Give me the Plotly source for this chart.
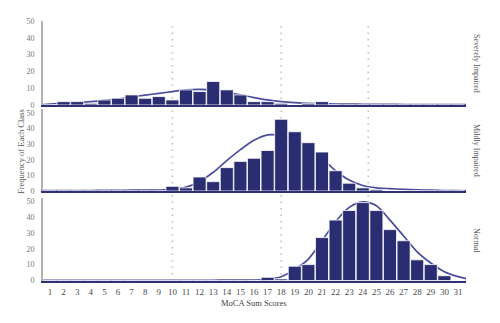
import plotly.graph_objects as go

# ---------------- data ----------------
scores = list(range(1, 32))
tick_labels = [str(s) for s in scores]

severe = [0, 2, 2, 1, 3, 4, 6, 4, 5, 3, 9, 8, 14, 9, 6, 2, 2, 1, 0, 1, 2,
          0, 0, 0, 0, 0, 0, 0, 0, 0, 0]
mild = [0, 0, 0, 0, 0, 0, 0, 0, 0, 3, 2, 9, 6, 15, 19, 21, 26, 46, 38, 31, 25,
        13, 5, 2, 1, 0, 0, 0, 0, 0, 0]
normal = [0, 0, 0, 0, 0, 0, 0, 0, 0, 0, 0, 0, 0, 0, 0, 0, 2, 1, 9, 10, 27,
          38, 44, 49, 44, 32, 25, 13, 10, 3, 0]

curve_x = [0.5, 1, 2, 3, 4, 5, 6, 7, 8, 9, 10, 11, 12, 13, 14, 15, 16, 17, 18,
           19, 20, 21, 22, 23, 24, 25, 26, 27, 28, 29, 30, 31, 31.6]
severe_fit = [0.3, 0.6, 1.1, 1.5, 2.0, 2.7, 3.6, 4.8, 5.9, 6.9, 8.0, 9.0, 9.3,
              8.8, 7.4, 6.0, 4.4, 3.0, 2.0, 1.4, 1.0, 0.8, 0.6, 0.5, 0.45, 0.4,
              0.35, 0.3, 0.3, 0.3, 0.3, 0.3, 0.3]
mild_fit = [0.2, 0.2, 0.3, 0.3, 0.3, 0.4, 0.4, 0.5, 0.5, 0.6, 1.0, 2.5, 6.0,
            12.0, 19.5, 26.5, 32.5, 36.0, 35.5, 32.5, 28.0, 21.0, 13.0, 7.0,
            3.5, 2.0, 1.5, 1.1, 0.8, 0.5, 0.3, 0.2, 0.1]
normal_fit = [0.1, 0.1, 0.1, 0.1, 0.1, 0.1, 0.1, 0.1, 0.1, 0.1, 0.1, 0.15,
              0.15, 0.15, 0.2, 0.2, 0.3, 0.8, 2.4, 7.0, 13.5, 25.0, 37.0, 46.0,
              49.5, 47.0, 38.0, 28.0, 18.0, 11.0, 5.5, 2.4, 1.2]

cutoffs = [10, 18, 24.4]
y_ticks = [0, 10, 20, 30, 40, 50]
panel_names = ["Severely Impaired", "Mildly Impaired", "Normal"]

# ---------------- style ----------------
W, H = 500, 323
BAR = "#2a2d72"
LINE = "#4a4c9c"
AXIS_NAVY = "#2f3177"
AXIS_GRAY = "#b3b3b3"
SERIF = "Liberation Serif, Times New Roman, serif"

x_dom = [43 / W, 466 / W]
x_rng = [0.485, 31.59]

# (pixel of 0, pixel of top, top value)
panels = [
    (105.0, 21.0, 50.0),
    (191.0, 109.0, 52.6),
    (280.5, 197.5, 52.2),
]

fig = go.Figure()

series = [severe, mild, normal]
fits = [severe_fit, mild_fit, normal_fit]

layout = dict(
    width=W, height=H,
    margin=dict(l=0, r=0, t=0, b=0),
    paper_bgcolor="white", plot_bgcolor="rgba(0,0,0,0)",
    showlegend=False, bargap=0.04,
    template="none",
)

for i in range(3):
    base_ax = i + 1
    over_ax = i + 4
    y0px, y1px, top = panels[i]
    dom = [1 - y0px / H, 1 - y1px / H]
    xa = "x" if base_ax == 1 else f"x{base_ax}"
    ya = "y" if base_ax == 1 else f"y{base_ax}"
    ya_over = f"y{over_ax}"

    # fitted curve on base subplot (drawn beneath the bars)
    fig.add_trace(go.Scatter(
        x=curve_x, y=fits[i], mode="lines",
        line=dict(color=LINE, width=1.7, shape="spline", smoothing=0.8),
        xaxis=xa, yaxis=ya, hoverinfo="skip"))
    # bars on overlaying axis
    fig.add_trace(go.Bar(
        x=scores, y=series[i], width=0.96,
        marker=dict(color=BAR, line=dict(color="white", width=0.8)),
        xaxis=xa, yaxis=ya_over, hoverinfo="skip"))

    xkey = "xaxis" if base_ax == 1 else f"xaxis{base_ax}"
    ykey = "yaxis" if base_ax == 1 else f"yaxis{base_ax}"
    layout[xkey] = dict(
        domain=x_dom, range=x_rng, anchor=ya,
        showline=True, linecolor=AXIS_NAVY, linewidth=2,
        showgrid=False, zeroline=False, ticks="",
        tickmode="array", tickvals=scores, ticktext=tick_labels,
        showticklabels=(i == 2), automargin=False,
        tickfont=dict(family=SERIF, size=9, color="#4a4a4a"),
        ticklabelstandoff=2,
    )
    layout[ykey] = dict(
        domain=dom, range=[0, top], anchor=xa,
        showline=True, linecolor=AXIS_GRAY, linewidth=2,
        showgrid=False, zeroline=False, ticks="",
        tickmode="array", tickvals=y_ticks,
        tickfont=dict(family=SERIF, size=8, color="#777777"),
        automargin=False, ticklabelstandoff=5,
    )
    layout[f"yaxis{over_ax}"] = dict(
        domain=dom, range=[0, top], overlaying=ya, anchor=xa,
        visible=False, showgrid=False, zeroline=False,
    )

fig.update_layout(**layout)

# dotted cutoff lines spanning all panels
for c in cutoffs:
    fig.add_shape(type="line", xref="x", yref="paper",
                  x0=c, x1=c, y0=1 - 281 / H, y1=1 - 21 / H,
                  line=dict(color="#bdbdbd", width=1.5, dash="1.5px,5px"),
                  layer="below")

# axis titles
fig.add_annotation(text="Frequency of Each Class", xref="paper", yref="paper",
                   x=21 / W, y=1 - 152 / H, showarrow=False, textangle=-90,
                   xanchor="center", yanchor="middle",
                   font=dict(family=SERIF, size=8.5, color="#555555"))
fig.add_annotation(text="MoCA Sum Scores", xref="paper", yref="paper",
                   x=254 / W, y=1 - 303 / H, showarrow=False,
                   xanchor="center", yanchor="middle",
                   font=dict(family=SERIF, size=8.5, color="#444444"))

# panel labels on the right
label_y = [63, 150, 240]
for name, ly in zip(panel_names, label_y):
    fig.add_annotation(text=name, xref="paper", yref="paper",
                       x=477 / W, y=1 - ly / H, showarrow=False, textangle=90,
                       xanchor="center", yanchor="middle",
                       font=dict(family=SERIF, size=8, color="#555555"))

fig.write_html("out.html")
